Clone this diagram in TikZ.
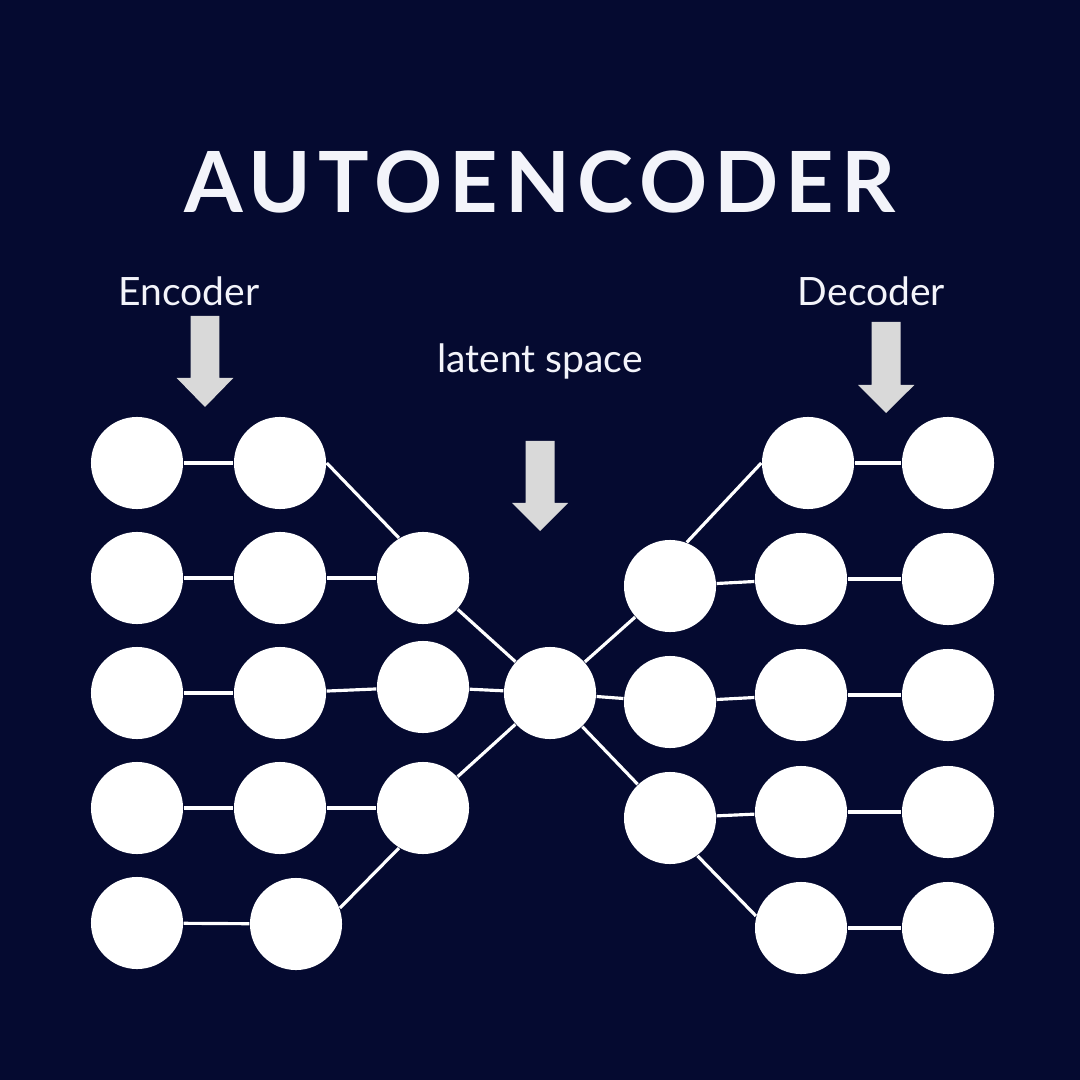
\documentclass[tikz,border=0pt]{standalone}
\usepackage{fontspec}
\setmainfont{Lato}
\newfontfamily\titlefont{Lato}[LetterSpace=8.5]

\definecolor{navy}{HTML}{050A30}
\definecolor{textwhite}{HTML}{F3F4FA}
\definecolor{arrowgray}{HTML}{D9D9D9}

\begin{document}
\begin{tikzpicture}[x=0.01cm, y=-0.01cm,
		neuron/.style={circle, fill=white, inner sep=0pt, minimum size=0.92cm},
		link/.style={draw=white, line width=0.9pt},
		blockarrow/.style={fill=arrowgray},
		caption/.style={text=textwhite, anchor=base, inner sep=0pt, font=\fontsize{11.1}{13}\selectfont}]
		\fill[navy] (0, 0) rectangle (1080, 1080);
		
		\node[text=textwhite, anchor=base, inner sep=0pt, font=\titlefont\bfseries\fontsize{24}{28}\selectfont] (title) at (540, 212.7) {AUTOENCODER};
		\node[caption] (enclabel) at (189, 305.7) {Encoder};
		\node[caption] (declabel) at (871.5, 305.7) {Decoder};
		\node[caption] (latlabel) at (540, 372.7) {latent space};
		
		\fill[blockarrow] (190.7, 316) -- (219.3, 316) -- (219.3, 378) -- (233.3, 378) -- (205, 407) -- (176.7, 378) -- (190.7, 378) -- cycle;
		\fill[blockarrow] (525.5, 441) -- (554.5, 441) -- (554.5, 503) -- (568, 503) -- (540, 531) -- (512, 503) -- (525.5, 503) -- cycle;
		\fill[blockarrow] (871.7, 322) -- (900.7, 322) -- (900.7, 385) -- (914.3, 385) -- (886, 413) -- (858, 385) -- (871.7, 385) -- cycle;
		
		\node[neuron] (in1) at (137, 463) {};
		\node[neuron] (in2) at (137, 578) {};
		\node[neuron] (in3) at (137, 693) {};
		\node[neuron] (in4) at (137, 808) {};
		\node[neuron] (in5) at (137, 923) {};
		
		\node[neuron] (h1) at (280, 463) {};
		\node[neuron] (h2) at (280, 578) {};
		\node[neuron] (h3) at (280, 693) {};
		\node[neuron] (h4) at (280, 808) {};
		\node[neuron] (h5) at (296, 924) {};
		
		\node[neuron] (c2) at (423, 578) {};
		\node[neuron] (c3) at (423, 687) {};
		\node[neuron] (c4) at (423, 808) {};
		
		\node[neuron] (z) at (550, 693) {};
		
		\node[neuron] (dc2) at (670, 586) {};
		\node[neuron] (dc3) at (670, 702) {};
		\node[neuron] (dc4) at (670, 818) {};
		
		\node[neuron] (dh1) at (808, 463) {};
		\node[neuron] (dh2) at (801, 579) {};
		\node[neuron] (dh3) at (801, 695) {};
		\node[neuron] (dh4) at (801, 812) {};
		\node[neuron] (dh5) at (801, 928) {};
		
		\node[neuron] (out1) at (948, 463) {};
		\node[neuron] (out2) at (948, 579) {};
		\node[neuron] (out3) at (948, 695) {};
		\node[neuron] (out4) at (948, 812) {};
		\node[neuron] (out5) at (948, 928) {};
		
		\draw[link] (in1) -- (h1);
		\draw[link] (in2) -- (h2);
		\draw[link] (in3) -- (h3);
		\draw[link] (in4) -- (h4);
		\draw[link] (in5) -- (h5);
		\draw[link] (h1.east) -- (c2.121);
		\draw[link] (h2) -- (c2);
		\draw[link] (h3) -- (c3);
		\draw[link] (h4) -- (c4);
		\draw[link] (h5.20) -- (c4.239);
		\draw[link] (c2) -- (z);
		\draw[link] (c3) -- (z);
		\draw[link] (c4) -- (z);
		
		\draw[link] (z) -- (dc2);
		\draw[link] (z) -- (dc3);
		\draw[link] (z) -- (dc4);
		\draw[link] (dc2.69) -- (dh1.west);
		\draw[link] (dc2) -- (dh2);
		\draw[link] (dc3) -- (dh3);
		\draw[link] (dc4) -- (dh4);
		\draw[link] (dc4.306) -- (dh5.165);
		\draw[link] (dh1) -- (out1);
		\draw[link] (dh2) -- (out2);
		\draw[link] (dh3) -- (out3);
		\draw[link] (dh4) -- (out4);
		\draw[link] (dh5) -- (out5);
	\end{tikzpicture}
\end{document}
